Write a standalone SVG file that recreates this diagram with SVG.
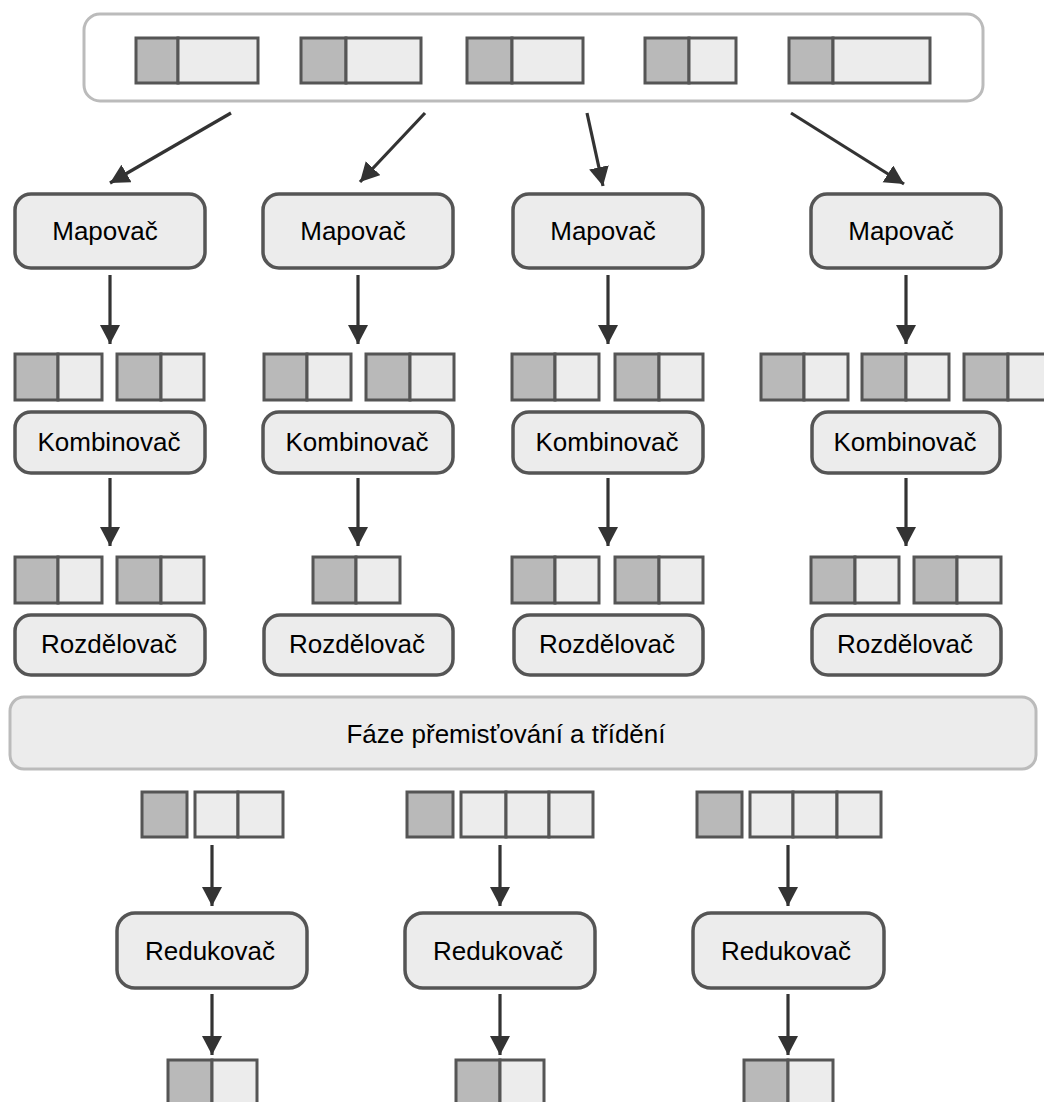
<svg xmlns="http://www.w3.org/2000/svg" width="1044" height="1102" viewBox="0 0 1044 1102">
  <defs>
    <marker id="arrow" markerUnits="userSpaceOnUse" markerWidth="20" markerHeight="22" refX="19" refY="10" orient="auto">
      <path d="M0,0 L19,10 L0,20 Z" fill="#333"/>
    </marker>
    <style>
      .frame { fill: #fff; stroke: #bbb; stroke-width: 3; }
      .bar { fill: #ececec; stroke: #bbb; stroke-width: 3; }
      .node { fill: #ececec; stroke: #555; stroke-width: 3.5; }
      .dk { fill: #b9b9b9; stroke: #555; stroke-width: 3; }
      .lt { fill: #ececec; stroke: #555; stroke-width: 3; }
      .lbl { font-family: "Liberation Sans", Arial, Helvetica, sans-serif; font-size: 26px; fill: #000; text-anchor: middle; }
      .edge { stroke: #333; stroke-width: 3.2; fill: none; marker-end: url(#arrow); }
    </style>
  </defs>

  <!-- input split container -->
  <g id="input">
    <rect class="frame" x="84" y="14" width="899" height="87" rx="16"/>
    <rect class="dk" x="136" y="38" width="42" height="45"/><rect class="lt" x="178" y="38" width="80" height="45"/>
    <rect class="dk" x="301" y="38" width="45" height="45"/><rect class="lt" x="346" y="38" width="75" height="45"/>
    <rect class="dk" x="467" y="38" width="45" height="45"/><rect class="lt" x="512" y="38" width="71" height="45"/>
    <rect class="dk" x="645" y="38" width="44" height="45"/><rect class="lt" x="689" y="38" width="47" height="45"/>
    <rect class="dk" x="789" y="38" width="44" height="45"/><rect class="lt" x="833" y="38" width="97" height="45"/>
  </g>

  <!-- mappers -->
  <g id="mapper1"><rect class="node" x="15" y="194" width="190" height="74" rx="16"/><text class="lbl" x="105" y="240">Mapovač</text></g>
  <g id="mapper2"><rect class="node" x="263" y="194" width="190" height="74" rx="16"/><text class="lbl" x="353" y="240">Mapovač</text></g>
  <g id="mapper3"><rect class="node" x="513" y="194" width="190" height="74" rx="16"/><text class="lbl" x="603" y="240">Mapovač</text></g>
  <g id="mapper4"><rect class="node" x="811" y="194" width="190" height="74" rx="16"/><text class="lbl" x="901" y="240">Mapovač</text></g>

  <!-- mapper output pairs -->
  <g id="pairs1">
    <rect class="dk" x="15" y="354" width="43" height="46"/><rect class="lt" x="58" y="354" width="44" height="46"/>
    <rect class="dk" x="117" y="354" width="44" height="46"/><rect class="lt" x="161" y="354" width="43" height="46"/>
  </g>
  <g id="pairs2">
    <rect class="dk" x="264" y="354" width="43" height="46"/><rect class="lt" x="307" y="354" width="44" height="46"/>
    <rect class="dk" x="366" y="354" width="44" height="46"/><rect class="lt" x="410" y="354" width="44" height="46"/>
  </g>
  <g id="pairs3">
    <rect class="dk" x="512" y="354" width="43" height="46"/><rect class="lt" x="555" y="354" width="44" height="46"/>
    <rect class="dk" x="615" y="354" width="44" height="46"/><rect class="lt" x="659" y="354" width="44" height="46"/>
  </g>
  <g id="pairs4">
    <rect class="dk" x="761" y="354" width="43" height="46"/><rect class="lt" x="804" y="354" width="44" height="46"/>
    <rect class="dk" x="862" y="354" width="44" height="46"/><rect class="lt" x="906" y="354" width="43" height="46"/>
    <rect class="dk" x="964" y="354" width="44" height="46"/><rect class="lt" x="1008" y="354" width="44" height="46"/>
  </g>

  <!-- combiners -->
  <g id="combiner1"><rect class="node" x="15" y="412" width="190" height="61" rx="16"/><text class="lbl" x="109" y="451">Kombinovač</text></g>
  <g id="combiner2"><rect class="node" x="263" y="412" width="190" height="61" rx="16"/><text class="lbl" x="357" y="451">Kombinovač</text></g>
  <g id="combiner3"><rect class="node" x="513" y="412" width="190" height="61" rx="16"/><text class="lbl" x="607" y="451">Kombinovač</text></g>
  <g id="combiner4"><rect class="node" x="812" y="412" width="188" height="61" rx="16"/><text class="lbl" x="905" y="451">Kombinovač</text></g>

  <!-- combiner output pairs -->
  <g id="combined1">
    <rect class="dk" x="15" y="557" width="43" height="46"/><rect class="lt" x="58" y="557" width="44" height="46"/>
    <rect class="dk" x="117" y="557" width="44" height="46"/><rect class="lt" x="161" y="557" width="43" height="46"/>
  </g>
  <g id="combined2">
    <rect class="dk" x="313" y="557" width="43" height="46"/><rect class="lt" x="356" y="557" width="44" height="46"/>
  </g>
  <g id="combined3">
    <rect class="dk" x="512" y="557" width="43" height="46"/><rect class="lt" x="555" y="557" width="44" height="46"/>
    <rect class="dk" x="615" y="557" width="44" height="46"/><rect class="lt" x="659" y="557" width="44" height="46"/>
  </g>
  <g id="combined4">
    <rect class="dk" x="811" y="557" width="44" height="46"/><rect class="lt" x="855" y="557" width="44" height="46"/>
    <rect class="dk" x="914" y="557" width="43" height="46"/><rect class="lt" x="957" y="557" width="44" height="46"/>
  </g>

  <!-- partitioners -->
  <g id="partitioner1"><rect class="node" x="15" y="615" width="190" height="60" rx="16"/><text class="lbl" x="109" y="653">Rozdělovač</text></g>
  <g id="partitioner2"><rect class="node" x="264" y="615" width="189" height="60" rx="16"/><text class="lbl" x="357" y="653">Rozdělovač</text></g>
  <g id="partitioner3"><rect class="node" x="514" y="615" width="189" height="60" rx="16"/><text class="lbl" x="607" y="653">Rozdělovač</text></g>
  <g id="partitioner4"><rect class="node" x="812" y="615" width="189" height="60" rx="16"/><text class="lbl" x="905" y="653">Rozdělovač</text></g>

  <!-- shuffle and sort phase -->
  <g id="shuffle">
    <rect class="bar" x="10" y="697" width="1026" height="72" rx="14"/>
    <text class="lbl" x="506" y="743">Fáze přemisťování a třídění</text>
  </g>

  <!-- grouped keys -->
  <g id="group1">
    <rect class="dk" x="142" y="792" width="45" height="45"/>
    <rect class="lt" x="195" y="792" width="43" height="45"/><rect class="lt" x="238" y="792" width="45" height="45"/>
  </g>
  <g id="group2">
    <rect class="dk" x="407" y="792" width="46" height="45"/>
    <rect class="lt" x="461" y="792" width="45" height="45"/><rect class="lt" x="506" y="792" width="43" height="45"/><rect class="lt" x="549" y="792" width="44" height="45"/>
  </g>
  <g id="group3">
    <rect class="dk" x="697" y="792" width="45" height="45"/>
    <rect class="lt" x="750" y="792" width="43" height="45"/><rect class="lt" x="793" y="792" width="44" height="45"/><rect class="lt" x="837" y="792" width="44" height="45"/>
  </g>

  <!-- reducers -->
  <g id="reducer1"><rect class="node" x="117" y="913" width="190" height="75" rx="18"/><text class="lbl" x="210" y="960">Redukovač</text></g>
  <g id="reducer2"><rect class="node" x="405" y="913" width="190" height="75" rx="18"/><text class="lbl" x="498" y="960">Redukovač</text></g>
  <g id="reducer3"><rect class="node" x="693" y="913" width="191" height="75" rx="18"/><text class="lbl" x="786" y="960">Redukovač</text></g>

  <!-- reducer outputs -->
  <g id="output1"><rect class="dk" x="168" y="1060" width="44" height="48"/><rect class="lt" x="212" y="1060" width="45" height="48"/></g>
  <g id="output2"><rect class="dk" x="456" y="1060" width="44" height="48"/><rect class="lt" x="500" y="1060" width="44" height="48"/></g>
  <g id="output3"><rect class="dk" x="744" y="1060" width="44" height="48"/><rect class="lt" x="788" y="1060" width="45" height="48"/></g>

  <!-- connectors -->
  <g id="connectors">
    <line class="edge" x1="231" y1="113" x2="110" y2="183"/>
    <line class="edge" x1="425" y1="113" x2="360" y2="182"/>
    <line class="edge" x1="587" y1="113" x2="603" y2="186"/>
    <line class="edge" x1="791" y1="113" x2="904" y2="184"/>

    <line class="edge" x1="110" y1="275" x2="110" y2="344"/>
    <line class="edge" x1="358" y1="275" x2="358" y2="344"/>
    <line class="edge" x1="608" y1="275" x2="608" y2="344"/>
    <line class="edge" x1="906" y1="275" x2="906" y2="344"/>

    <line class="edge" x1="110" y1="478" x2="110" y2="546"/>
    <line class="edge" x1="358" y1="478" x2="358" y2="546"/>
    <line class="edge" x1="608" y1="478" x2="608" y2="546"/>
    <line class="edge" x1="906" y1="478" x2="906" y2="546"/>

    <line class="edge" x1="212" y1="845" x2="212" y2="906"/>
    <line class="edge" x1="500" y1="845" x2="500" y2="906"/>
    <line class="edge" x1="788" y1="845" x2="788" y2="906"/>

    <line class="edge" x1="212" y1="994" x2="212" y2="1055"/>
    <line class="edge" x1="500" y1="994" x2="500" y2="1055"/>
    <line class="edge" x1="788" y1="994" x2="788" y2="1055"/>
  </g>
</svg>
